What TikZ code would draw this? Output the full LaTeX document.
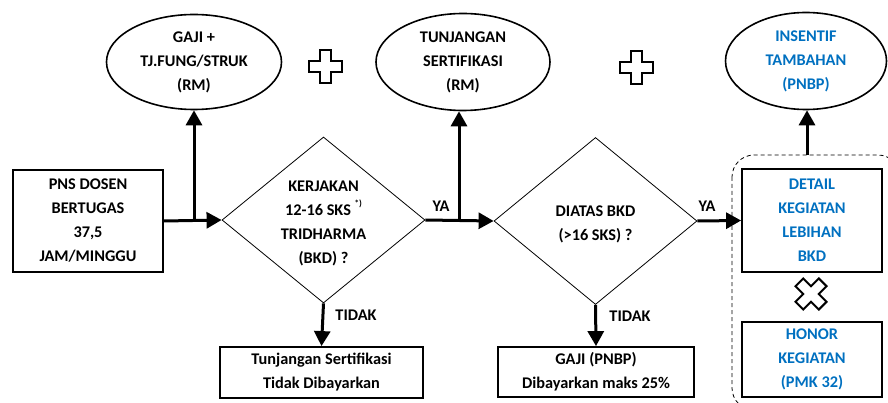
\documentclass[tikz,border=0pt]{standalone}
\usepackage{fontspec}
\setmainfont{Carlito}
\usetikzlibrary{shapes.geometric}
\usetikzlibrary{arrows.meta}

\definecolor{pnbpblue}{RGB}{0,112,192}

\tikzset{
	txt/.style={font=\bfseries\fontsize{16.3}{24}\selectfont, align=center, inner sep=0pt},
	box/.style={txt, draw, line width=1.8pt, rectangle},
	oval/.style={txt, draw, line width=1.6pt, ellipse},
	choice/.style={txt, draw, line width=0.8pt, diamond},
	flow/.style={line width=3pt, -{Triangle[length=15pt,width=16pt]}},
	symb/.style={draw, line width=2pt, fill=white}
}

\begin{document}
\begin{tikzpicture}[x=1pt, y=-1pt]
	\useasboundingbox (0,0) rectangle (888,403);
%	\draw[thin,gray!40] (0,0) grid[step=50] (888,403);

%% Dashed group
	\draw[dashed, dash pattern=on 4pt off 3pt, line width=0.8pt, rounded corners=22pt]
		(732,155) rectangle (900,410);
	\coordinate (grouptop) at (807,155);

%% Ellipses
	\draw (194,62) node[oval, minimum width=175, minimum height=95] (gaji){GAJI +\\TJ.FUNG/STRUK\\(RM)};
	\draw (463,62) node[oval, minimum width=174, minimum height=97] (tunj){TUNJANGAN\\SERTIFIKASI\\(RM)};
	\draw (806,61) node[oval, minimum width=161, minimum height=97, text=pnbpblue] (insentif){INSENTIF\\TAMBAHAN\\(PNBP)};

%% Plus signs
	\draw[symb] (325,67) ++(-5.5,-16.5) -- ++(11,0) -- ++(0,11) -- ++(11,0) -- ++(0,11) -- ++(-11,0)
		-- ++(0,11) -- ++(-11,0) -- ++(0,-11) -- ++(-11,0) -- ++(0,-11) -- ++(11,0) -- cycle;
	\draw[symb] (636,68) ++(-5.5,-16.5) -- ++(11,0) -- ++(0,11) -- ++(11,0) -- ++(0,11) -- ++(-11,0)
		-- ++(0,11) -- ++(-11,0) -- ++(0,-11) -- ++(-11,0) -- ++(0,-11) -- ++(11,0) -- cycle;

%% Boxes
	\draw (88,221) node[box, minimum width=150, minimum height=102] (pns){PNS DOSEN\\BERTUGAS\\37,5\\JAM/MINGGU};
	\draw (321.5,372.5) node[box, minimum width=203, minimum height=51] (tidakserti){Tunjangan Sertifikasi\\Tidak Dibayarkan};
	\draw (596,372) node[box, minimum width=196, minimum height=50] (gajipnbp){GAJI (PNBP)\\Dibayarkan maks 25\%};
	\draw (812,220.5) node[box, minimum width=140, minimum height=103, text=pnbpblue] (detail){DETAIL\\KEGIATAN\\LEBIHAN\\BKD};
	\draw (812,359.5) node[box, minimum width=140, minimum height=75, text=pnbpblue] (honor){HONOR\\KEGIATAN\\(PMK 32)};

%% Times sign
	\draw[symb, rotate around={45:(811,294)}] (811,294) ++(-5.5,-16.5) -- ++(11,0) -- ++(0,11) -- ++(11,0) -- ++(0,11) -- ++(-11,0)
		-- ++(0,11) -- ++(-11,0) -- ++(0,-11) -- ++(-11,0) -- ++(0,-11) -- ++(11,0) -- cycle;

%% Decisions
	\draw (323.5,220) node[choice, minimum width=203, minimum height=166] (bkd){};
	\draw (323.5,223) node[txt] (bkdtext){KERJAKAN\\12-16 SKS \raisebox{1.1ex}{\fontsize{9}{9}\selectfont *)}\\TRIDHARMA\\(BKD) ?};
	\draw (595.5,221) node[choice, minimum width=203, minimum height=167] (lebih){};
	\draw (595.5,224) node[txt] (lebihtext){DIATAS BKD\\(>16 SKS) ?};

%% Labels
	\draw (441,206) node[txt] (ya1){YA};
	\draw (707,206) node[txt] (ya2){YA};
	\draw (356,315) node[txt] (tidak1){TIDAK};
	\draw (630,316) node[txt] (tidak2){TIDAK};

	% Lines
	\coordinate (split1) at (gaji.south |- pns.east);
	\coordinate (split2) at (459,220);
	\draw[flow] (pns.east) -- (bkd.west);
	\draw[flow] (split1) -- (gaji.south);
	\draw[flow] (bkd.east) -- (lebih.west);
	\draw[flow] (split2) -- (split2 |- tunj.south);
	\draw[flow] (lebih.east) -- (detail.west);
	\draw[flow] (grouptop) -- (grouptop |- insentif.south);
	\draw[flow] (bkd.south) -- (tidakserti.north);
	\draw[flow] (lebih.south) -- (gajipnbp.north);
\end{tikzpicture}
\end{document}
